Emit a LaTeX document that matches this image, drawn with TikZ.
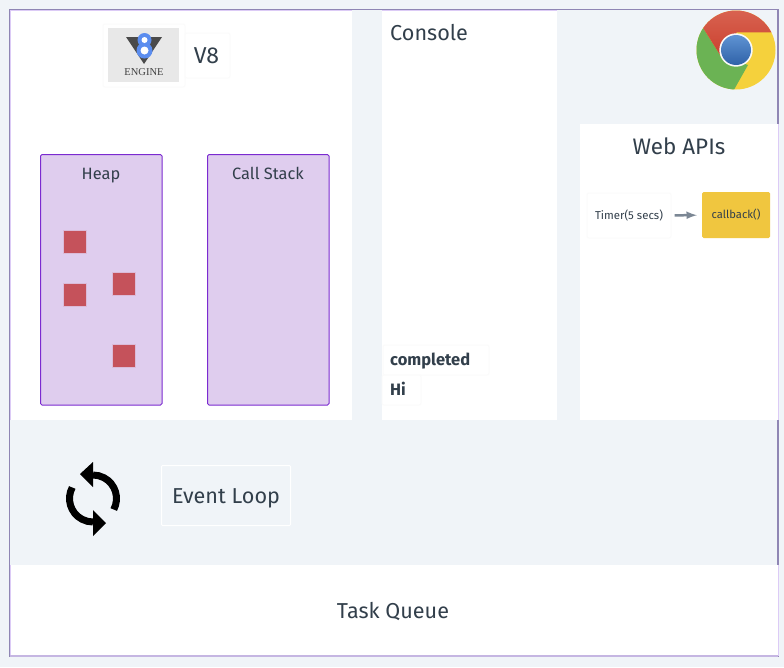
\documentclass[tikz,border=0pt]{standalone}
\usepackage{fontspec}
\setmainfont{Fira Sans}
\newfontfamily\logofont{Liberation Serif}
\definecolor{pagebg}{HTML}{F0F4F8}
\definecolor{framecol}{HTML}{8F86B4}
\definecolor{paleline}{HTML}{DCCBF6}
\definecolor{inkcol}{HTML}{323F4B}
\definecolor{stackfill}{HTML}{DFCDEE}
\definecolor{stackline}{HTML}{7B2BD0}
\definecolor{objcol}{HTML}{C5525B}
\definecolor{cbcol}{HTML}{F0C63F}
\definecolor{arrowcol}{HTML}{7B8794}
\definecolor{enginecol}{HTML}{5B8DEF}
\definecolor{wingcol}{HTML}{4A4A4A}
\definecolor{chromered}{HTML}{C93F2D}
\definecolor{chromeredtop}{HTML}{DC6A58}
\definecolor{chromegreen}{HTML}{6BB354}
\definecolor{chromeyellow}{HTML}{F5D13C}
\definecolor{chromebluetop}{HTML}{5F93D3}
\definecolor{chromeblue}{HTML}{2F62A8}
\tikzset{
  panel/.style={fill=white,text=inkcol},
  softbox/.style={panel,draw=black!1.5,line width=1pt,rounded corners=2pt},
  stackbox/.style={draw=stackline,fill=stackfill,line width=1pt,rounded corners=1.5pt},
  objbox/.style={fill=objcol,draw=objcol!15!stackfill,line width=1pt},
  caption/.style={text=inkcol,inner sep=0pt,anchor=base},
}
\begin{document}
\begin{tikzpicture}[x=1pt,y=-1pt]
	\useasboundingbox (0,0) rectangle (784,667);
	\fill [pagebg] (0,0) rectangle (784,667);
	\draw [draw=framecol,line width=1.2pt] (9.5,9.8) rectangle (778,656.5);
	
	% panels
	\fill [panel] (10,10) rectangle (352,420);
	\fill [panel] (382,10) rectangle (557,420);
	\fill [panel] (580,124) rectangle (778,420);
	\fill [panel] (10,565) rectangle (778,656);
	\draw [paleline,line width=1pt] (10.5,420) -- (10.5,10.5) -- (352,10.5);
	\draw [paleline,line width=1pt] (382,10.5) -- (557,10.5);
	\draw [paleline,line width=1pt] (778,124) -- (778,420);
	\draw [paleline,line width=1pt] (10.5,565) -- (10.5,656);
	\draw [paleline,line width=1pt] (778,565) -- (778,656);
	\draw [paleline!70!framecol,line width=1.2pt] (10,656) -- (778,656);
	
	% v8 logo
	\fill [softbox] (103,24) rectangle (185,87);
	\fill [softbox] (185,33) rectangle (230,78);
	\fill [black!9] (108,28) rectangle (179,82);
	\fill [wingcol] (126,37) -- (162,37) -- (144,64) -- cycle;
	\fill [enginecol] (144.5,40) circle (7pt);
	\fill [enginecol] (144.5,50.5) circle (8pt);
	\fill [white] (144.5,40) circle (3pt);
	\fill [white] (144.5,50.5) circle (4pt);
	\node (engine) [text=black!75,inner sep=0pt,font=\logofont\fontsize{10.5}{11}\selectfont] at (144,72) {ENGINE};
	\node (v8) [caption,font=\fontsize{23}{26}\selectfont] at (206.5,63) {V8};
	
	% heap and stack
	\draw [stackbox] (40.5,154.5) rectangle (162,405);
	\draw [stackbox] (207.5,154.5) rectangle (329,405);
	\node (heap) [caption,font=\fontsize{16.4}{19}\selectfont] at (101,179) {Heap};
	\node (stack) [caption,font=\fontsize{16.4}{19}\selectfont] at (268,179) {Call Stack};
	\fill [objbox] (63,230) rectangle (86,253);
	\fill [objbox] (63,283) rectangle (86,306);
	\fill [objbox] (112,272) rectangle (135,295);
	\fill [objbox] (112,344) rectangle (135,367);
	
	% console
	\node (console) [caption,anchor=base west,font=\fontsize{21.6}{24}\selectfont] at (390,40) {Console};
	\fill [softbox] (383,345) rectangle (489,375);
	\fill [softbox] (382,375) rectangle (421,405);
	\node (completed) [caption,anchor=base west,font=\bfseries\fontsize{16.5}{19}\selectfont] at (390,365) {completed};
	\node (hi) [caption,anchor=base west,font=\bfseries\fontsize{16.5}{19}\selectfont] at (390,395) {Hi};
	
	% chrome
	\begin{scope}
	\clip (736,50) circle (39.5pt);
	\fill [chromeyellow] (690,0) rectangle (784,100);
	\fill [chromegreen] (690,10) -- (703.3,28.3) -- (720,55) -- (748,65) -- (731,95) -- (690,95) -- cycle;
	\shade [top color=chromeredtop,bottom color=chromered] (690,0) -- (784,0) -- (784,32.3) -- (736.7,32.3) -- (722,58) -- (703.3,28.3) -- cycle;
	\end{scope}
	\fill [white!95!gray] (736,50) circle (16.7pt);
	\shade [top color=chromebluetop,bottom color=chromeblue] (736,50) circle (15pt);
	
	% web apis
	\node (webapis) [caption,font=\fontsize{22.4}{24}\selectfont] at (679,154) {Web APIs};
	\node (timer) [softbox,minimum width=84pt,minimum height=45pt,inner sep=0pt,font=\fontsize{11.4}{13}\selectfont] at (629,215.5) {Timer(5 secs)};
	\node (callback) [fill=cbcol,rounded corners=1.5pt,text=inkcol,minimum width=68pt,minimum height=46pt,inner sep=0pt,font=\fontsize{11.2}{13}\selectfont] at (736,215) {callback()};
	\draw [-latex,color=arrowcol,line width=2.5pt,shorten <=3pt,shorten >=5pt] (timer) -- (callback);
	
	% event loop
	\begin{scope}[shift={(93,498.5)}]
	\draw [black,line width=7pt] (-28:23.5pt) arc[start angle=-28,end angle=90,radius=23.5pt];
	\draw [black,line width=7pt] (152:23.5pt) arc[start angle=152,end angle=270,radius=23.5pt];
	\fill [black] (-13,-24.5) -- (0,-36.5) -- (0,-11.5) -- cycle;
	\fill [black] (13,24.5) -- (0,11.5) -- (0,37.5) -- cycle;
	\end{scope}
	\node (loop) [draw=white,line width=1pt,rounded corners=1pt,text=inkcol,minimum width=129pt,minimum height=60pt,inner sep=0pt,font=\fontsize{21.6}{24}\selectfont] at (226,495.5) {\raisebox{-8pt}[0pt][0pt]{Event Loop}};
	
	% task queue
	\node (queue) [caption,font=\fontsize{21.6}{24}\selectfont] at (393,618) {Task Queue};
\end{tikzpicture}
\end{document}
